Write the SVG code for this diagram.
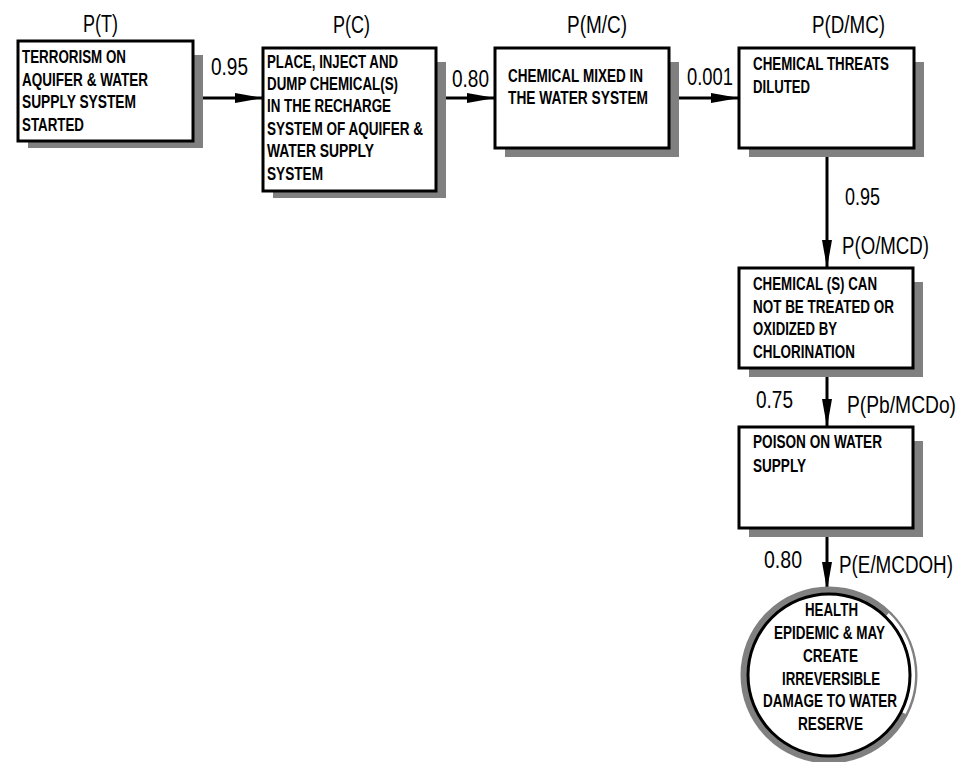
<svg xmlns="http://www.w3.org/2000/svg" width="969" height="762" viewBox="0 0 969 762">
  <style>
    .box { fill: #ffffff; stroke: #000000; stroke-width: 3; }
    .shadow { fill: #808080; stroke: none; }
    .body { font-family: "Liberation Sans", Arial, sans-serif; font-weight: bold; font-size: 17.5px; fill: #000000; }
    .prob { font-family: "Liberation Sans", Arial, sans-serif; font-size: 23px; fill: #000000; }
    .edge { stroke: #000000; stroke-width: 3; fill: none; }
  </style>
  <defs>
    <marker id="head" markerUnits="userSpaceOnUse" markerWidth="30" markerHeight="12" refX="28" refY="5" orient="auto">
      <path d="M0,0 L28,5 L0,10 Z" fill="#000000"/>
    </marker>
  </defs>
  <rect width="969" height="762" fill="#ffffff"/>

  <!-- connectors -->
  <g id="connectors">
    <line class="edge" x1="193" y1="98" x2="263" y2="98" marker-end="url(#head)"/>
    <line class="edge" x1="436" y1="98" x2="495" y2="98" marker-end="url(#head)"/>
    <line class="edge" x1="669" y1="98" x2="739" y2="98" marker-end="url(#head)"/>
    <line class="edge" x1="827" y1="148" x2="827" y2="268" marker-end="url(#head)"/>
    <line class="edge" x1="827" y1="368" x2="827" y2="427" marker-end="url(#head)"/>
    <line class="edge" x1="827" y1="528" x2="827" y2="590" marker-end="url(#head)"/>
  </g>

  <!-- probability labels -->
  <g id="labels">
    <text class="prob" x="83" y="32" textLength="35" lengthAdjust="spacingAndGlyphs">P(T)</text>
    <text class="prob" x="333" y="33" textLength="37" lengthAdjust="spacingAndGlyphs">P(C)</text>
    <text class="prob" x="567" y="33" textLength="60" lengthAdjust="spacingAndGlyphs">P(M/C)</text>
    <text class="prob" x="812" y="33" textLength="73" lengthAdjust="spacingAndGlyphs">P(D/MC)</text>
    <text class="prob" x="211" y="75" textLength="37" lengthAdjust="spacingAndGlyphs">0.95</text>
    <text class="prob" x="452" y="87" textLength="37" lengthAdjust="spacingAndGlyphs">0.80</text>
    <text class="prob" x="687" y="85" textLength="46" lengthAdjust="spacingAndGlyphs">0.001</text>
    <text class="prob" x="845" y="205" textLength="35" lengthAdjust="spacingAndGlyphs">0.95</text>
    <text class="prob" x="842" y="254" textLength="87" lengthAdjust="spacingAndGlyphs">P(O/MCD)</text>
    <text class="prob" x="756" y="408" textLength="37" lengthAdjust="spacingAndGlyphs">0.75</text>
    <text class="prob" transform="translate(847,413) scale(0.84,1)" x="0" y="0" textLength="129.8" lengthAdjust="spacingAndGlyphs">P(Pb/MCDo)</text>
    <text class="prob" x="764" y="568" textLength="38" lengthAdjust="spacingAndGlyphs">0.80</text>
    <text class="prob" transform="translate(839,573) scale(0.82,1)" x="0" y="0" textLength="139" lengthAdjust="spacingAndGlyphs">P(E/MCDOH)</text>
  </g>

  <g id="terrorism-started">
    <rect class="shadow" x="28" y="55" width="175" height="93"/>
    <rect class="box" x="18" y="41" width="175" height="100"/>
    <text class="body" x="22" y="63" textLength="104" lengthAdjust="spacingAndGlyphs">TERRORISM ON</text>
    <text class="body" x="22" y="86" textLength="126" lengthAdjust="spacingAndGlyphs">AQUIFER &amp; WATER</text>
    <text class="body" x="22" y="108" textLength="114" lengthAdjust="spacingAndGlyphs">SUPPLY SYSTEM</text>
    <text class="body" x="22" y="131" textLength="62" lengthAdjust="spacingAndGlyphs">STARTED</text>
  </g>

  <g id="chemical-placed">
    <rect class="shadow" x="273" y="62" width="173" height="136"/>
    <rect class="box" x="263" y="48" width="173" height="143"/>
    <text class="body" x="267" y="68" textLength="131" lengthAdjust="spacingAndGlyphs">PLACE, INJECT AND</text>
    <text class="body" x="267" y="90" textLength="131" lengthAdjust="spacingAndGlyphs">DUMP CHEMICAL(S)</text>
    <text class="body" x="267" y="112" textLength="124" lengthAdjust="spacingAndGlyphs">IN THE RECHARGE</text>
    <text class="body" x="267" y="135" textLength="156" lengthAdjust="spacingAndGlyphs">SYSTEM OF AQUIFER &amp;</text>
    <text class="body" x="267" y="157" textLength="107" lengthAdjust="spacingAndGlyphs">WATER SUPPLY</text>
    <text class="body" x="267" y="180" textLength="56" lengthAdjust="spacingAndGlyphs">SYSTEM</text>
  </g>

  <g id="chemical-mixed">
    <rect class="shadow" x="505" y="62" width="174" height="95"/>
    <rect class="box" x="495" y="48" width="174" height="100"/>
    <text class="body" x="508" y="82" textLength="135" lengthAdjust="spacingAndGlyphs">CHEMICAL MIXED IN</text>
    <text class="body" x="508" y="104" textLength="140" lengthAdjust="spacingAndGlyphs">THE WATER SYSTEM</text>
  </g>

  <g id="threats-diluted">
    <rect class="shadow" x="749" y="62" width="175" height="95"/>
    <rect class="box" x="739" y="48" width="175" height="100"/>
    <text class="body" x="753" y="70" textLength="136" lengthAdjust="spacingAndGlyphs">CHEMICAL THREATS</text>
    <text class="body" x="753" y="93" textLength="57" lengthAdjust="spacingAndGlyphs">DILUTED</text>
  </g>

  <g id="not-treated">
    <rect class="shadow" x="749" y="282" width="174" height="95"/>
    <rect class="box" x="739" y="268" width="174" height="100"/>
    <text class="body" x="753" y="290" textLength="124" lengthAdjust="spacingAndGlyphs">CHEMICAL (S) CAN</text>
    <text class="body" x="753" y="313" textLength="141" lengthAdjust="spacingAndGlyphs">NOT BE TREATED OR</text>
    <text class="body" x="753" y="335" textLength="84" lengthAdjust="spacingAndGlyphs">OXIDIZED BY</text>
    <text class="body" x="753" y="358" textLength="102" lengthAdjust="spacingAndGlyphs">CHLORINATION</text>
  </g>

  <g id="poison-supply">
    <rect class="shadow" x="749" y="441" width="174" height="96"/>
    <rect class="box" x="739" y="427" width="174" height="101"/>
    <text class="body" x="753" y="448" textLength="129" lengthAdjust="spacingAndGlyphs">POISON ON WATER</text>
    <text class="body" x="753" y="472" textLength="53" lengthAdjust="spacingAndGlyphs">SUPPLY</text>
  </g>

  <g id="health-epidemic">
    <circle cx="829" cy="675" r="85" fill="none" stroke="#808080" stroke-width="7"/>
    <!-- light rim on the right edge of the ring -->
    <path d="M 887.4,614.5 A 84 84 0 0 1 903.8,713.1" fill="none" stroke="#ffffff" stroke-width="4"/>
    <circle cx="829" cy="675" r="81" fill="#ffffff" stroke="#000000" stroke-width="3"/>
    <text class="body" x="805" y="616" textLength="53" lengthAdjust="spacingAndGlyphs">HEALTH</text>
    <text class="body" x="774" y="639" textLength="111" lengthAdjust="spacingAndGlyphs">EPIDEMIC &amp; MAY</text>
    <text class="body" x="803" y="662" textLength="55" lengthAdjust="spacingAndGlyphs">CREATE</text>
    <text class="body" x="782" y="685" textLength="98" lengthAdjust="spacingAndGlyphs">IRREVERSIBLE</text>
    <text class="body" x="763" y="707" textLength="134" lengthAdjust="spacingAndGlyphs">DAMAGE TO WATER</text>
    <text class="body" x="798" y="730" textLength="65" lengthAdjust="spacingAndGlyphs">RESERVE</text>
  </g>
</svg>
